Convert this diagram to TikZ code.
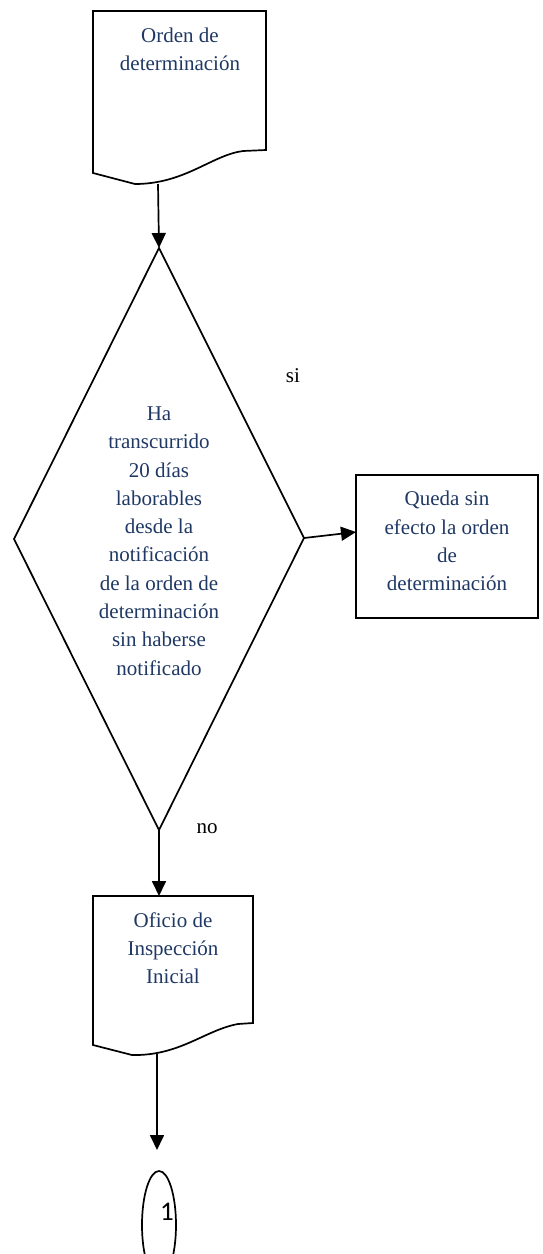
\documentclass[tikz,border=0pt]{standalone}
\usepackage{fontspec}
\setmainfont{Liberation Serif}
\newfontfamily\calib{Carlito}
\usetikzlibrary{arrows.meta,shapes.geometric}
\definecolor{navy}{HTML}{1F3864}
\begin{document}
\begin{tikzpicture}[x=1pt,y=-1pt,
  shapeline/.style={draw=black,line width=1.7pt,line join=miter},
  boxtext/.style={text=navy,font=\fontsize{21}{28.3}\selectfont,align=center,inner sep=0pt},
  lbl/.style={text=black,font=\fontsize{21}{24}\selectfont,inner sep=0pt},
  flow/.style={draw=black,line width=1.7pt,-{Triangle[length=15pt,width=14pt]}}]
\useasboundingbox (0,0) rectangle (542,1254);

% top document
\draw[shapeline] (93,11) -- (266,11) -- (266,150) -- (243,151)
  .. controls (212,155) and (185,184) .. (135,184) -- (93,173) -- cycle;
\coordinate (d1b) at (158,184);
\node[boxtext] (d1t) at (180,49) {Orden de\\determinación};

% decision diamond
\coordinate (dt) at (159,248);
\coordinate (dr) at (304,538);
\coordinate (db) at (159,830);
\coordinate (dl) at (14,539);
\draw[shapeline] (dt) -- (dr) -- (db) -- (dl) -- cycle;
\node[boxtext] (dq) at (159,541) {Ha\\transcurrido\\20 días\\laborables\\desde la\\notificación\\de la orden de\\determinación\\sin haberse\\notificado};

% right box
\node[shapeline,rectangle,minimum width=182pt,minimum height=143pt,inner sep=0pt] (qb) at (447,546.5) {};
\node[boxtext] (qt) at (447,541) {Queda sin\\efecto la orden\\de\\determinación};
\coordinate (qa) at (356,532);

% bottom document
\draw[shapeline] (93,896) -- (253,896) -- (253,1023) -- (238,1024)
  .. controls (205,1030) and (180,1056) .. (132,1055) -- (93,1045) -- cycle;
\coordinate (d2t) at (159,896);
\coordinate (d2b) at (157,1054);
\node[boxtext] (d2x) at (173,948) {Oficio de\\Inspección\\Inicial};

% connector
\node[ellipse,draw=black,line width=1.7pt,minimum width=34pt,minimum height=108pt,inner sep=0pt] (c1) at (159,1225) {};
\node[inner sep=0pt,font=\calib\fontsize{27}{30}\selectfont] (c1t) at (167,1212) {1};
\coordinate (c1a) at (157,1150);

% labels
\node[lbl] (si) at (293,376) {si};
\node[lbl] (no) at (207,829) {no};

% arrows
\draw[flow] (d1b) -- (dt);
\draw[flow] (dr) -- (qa);
\draw[flow] (db) -- (d2t);
\draw[flow] (d2b) -- (c1a);
\end{tikzpicture}
\end{document}
